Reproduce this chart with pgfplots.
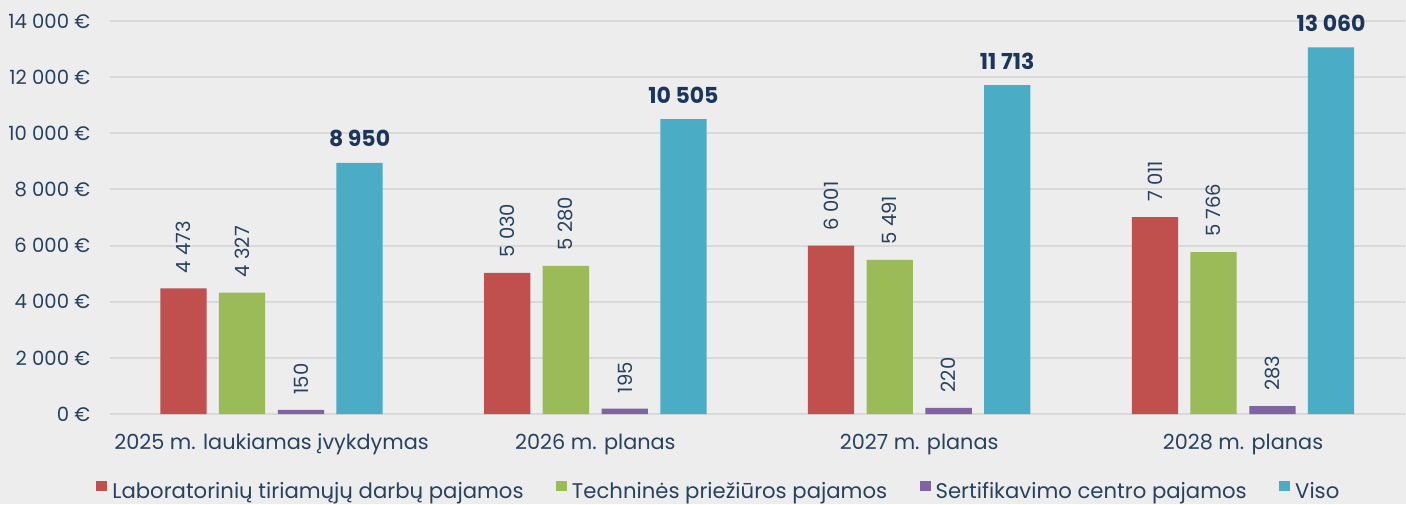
\documentclass[border=0pt]{standalone}
\usepackage{fontspec}
\setmainfont{Poppins}
\usepackage{pgfplots}
\pgfplotsset{compat=1.18}

\definecolor{bgc}{HTML}{EDEDED}
\definecolor{gridc}{HTML}{D9D9D9}
\definecolor{txt}{HTML}{27415F}
\definecolor{navy}{HTML}{1B365D}
\definecolor{cred}{HTML}{C0504D}
\definecolor{cgreen}{HTML}{9BBB59}
\definecolor{cpurple}{HTML}{8064A2}
\definecolor{cblue}{HTML}{4BACC6}

\begin{document}
\begin{tikzpicture}
% background, also fixes the picture size (1 px = 0.5 pt)
\path[use as bounding box, fill=bgc] (-54.8pt,-45pt) rectangle (648.2pt,207pt);
\begin{axis}[
    at={(0pt,0pt)}, anchor=south west,
    scale only axis, width=647.65pt, height=196.5pt,
    xmin=-0.5, xmax=3.5, ymin=0, ymax=14000,
    ybar, bar width=0.143,
    xtick={0,1,2,3},
    xticklabels={2025 m. laukiamas įvykdymas, 2026 m. planas, 2027 m. planas, 2028 m. planas},
    ytick={0,2000,...,14000},
    scaled y ticks=false,
    yticklabel={\pgfmathprintnumber{\tick}~€},
    /pgf/number format/1000 sep={\ },
    /pgf/number format/assume math mode=true,
    axis line style={draw=none},
    major tick style={draw=none},
    ymajorgrids, grid style={gridc, line width=1pt},
    tick label style={text=txt},
    yticklabel style={font=\fontsize{9.8}{11}\selectfont, anchor=east, inner sep=0pt, xshift=-9.5pt},
    xticklabel style={font=\fontsize{10.4}{12}\selectfont, anchor=base, inner sep=0pt, yshift=-13.5pt},
    nodes near coords,
    every node near coord/.append style={font=\fontsize{9.8}{11}\selectfont, text=txt,
        rotate=90, anchor=west, inner xsep=7.5pt, inner ysep=0pt},
    legend columns=-1,
    legend style={at={(axis description cs:-0.0105,-0.196)}, anchor=west,
        draw=none, fill=none, inner sep=0pt,
        font=\fontsize{10.6}{12}\selectfont, text=txt,
        nodes={inner sep=0pt},
        /tikz/every odd column/.append style={column sep=2.5pt},
        /tikz/every even column/.append style={column sep=16.2pt}},
    legend image code/.code={\fill[#1] (0pt,0pt) rectangle (5.5pt,5.2pt);},
]
\addplot[fill=cred, draw=none, bar shift=-0.272]
    coordinates {(0,4473) (1,5030) (2,6001) (3,7011)};
\addplot[fill=cgreen, draw=none, bar shift=-0.091]
    coordinates {(0,4327) (1,5280) (2,5491) (3,5766)};
\addplot[fill=cpurple, draw=none, bar shift=0.091]
    coordinates {(0,150) (1,195) (2,220) (3,283)};
\addplot[fill=cblue, draw=none, bar shift=0.272,
    every node near coord/.append style={rotate=-90, anchor=base, inner sep=0pt,
        yshift=8pt, text=navy, font=\bfseries\fontsize{11}{13}\selectfont}]
    coordinates {(0,8950) (1,10505) (2,11713) (3,13060)};
\legend{Laboratorinių tiriamųjų darbų pajamos, Techninės priežiūros pajamos,
    Sertifikavimo centro pajamos, Viso}
\end{axis}
\end{tikzpicture}
\end{document}
